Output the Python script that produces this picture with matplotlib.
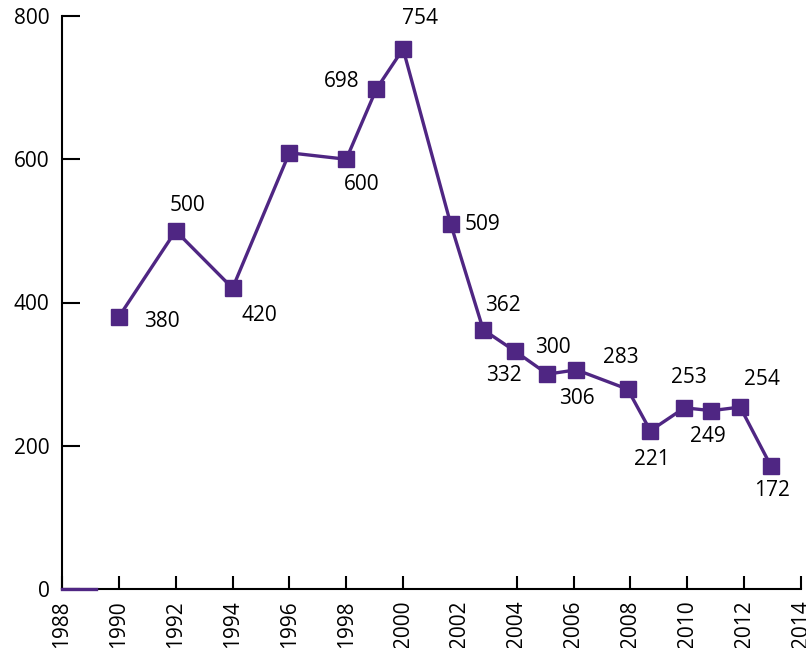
import matplotlib.pyplot as plt

plt.rcParams['font.family'] = ['Open Sans', 'DejaVu Sans']

# Data
years = [1990, 1992, 1994, 1996, 1998, 1999.06, 2000, 2001.68, 2002.82, 2003.94,
         2005.08, 2006.1, 2007.9, 2008.7, 2009.9, 2010.85, 2011.86, 2012.94]
values = [380, 500, 420, 609, 600, 698, 754, 509, 362, 332,
          300, 306, 279, 221, 253, 249, 254, 172]
labels = ['380', '500', '420', '', '600', '698', '754', '509', '362', '332',
          '300', '306', '283', '221', '253', '249', '254', '172']
# label offsets in pixels (dx, dy)
offsets = [(43, -5), (12, 25), (27, -27), (0, 0), (15, -25), (-35, 8), (17, 30),
           (32, 0), (20, 24), (-11, -24), (5, 27), (0, -29), (-7, 32), (2, -29),
           (4, 30), (-4, -26), (22, 28), (1, -25)]

base_years = [1988, 1989.2]
base_values = [0, 0]

tick_years = [1988, 1990, 1992, 1994, 1996, 1998, 2000, 2002, 2004, 2006, 2008, 2010, 2012, 2014]

purple = '#4f2683'

fig = plt.figure(figsize=(8.06, 6.48), dpi=100)
ax = fig.add_axes([62 / 806, 59 / 648, 739 / 806, 573 / 648])

ax.plot(base_years, base_values, color=purple, lw=2.4, clip_on=False, zorder=3)
ax.plot(years, values, color=purple, lw=2.4, marker='s', markersize=11.5, zorder=3)

for x, y, lab, (dx, dy) in zip(years, values, labels, offsets):
    if lab:
        ax.annotate(lab, (x, y), xytext=(dx * 0.72, dy * 0.72), textcoords='offset points',
                    ha='center', va='center', fontsize=15, color='black')

ax.set_xlim(1988, 2014)
ax.set_ylim(0, 800)
ax.set_xticks([t for t in tick_years if t != 2002])
ax.set_xticks([2002], minor=True)
ax.set_xticklabels([str(t) for t in tick_years if t != 2002], rotation=90)
ax.set_xticklabels(['2002'], minor=True, rotation=90)
ax.tick_params(axis='x', which='minor', length=0, pad=8, labelsize=15)
ax.set_yticks([0, 200, 400, 600, 800])

ax.tick_params(axis='x', direction='in', length=9.5, width=1.5, pad=8, labelsize=15)
ax.tick_params(axis='y', direction='in', length=13, width=1.5, pad=9, labelsize=15)

ax.spines['top'].set_visible(False)
ax.spines['right'].set_visible(False)
ax.spines['left'].set_linewidth(1.5)
ax.spines['bottom'].set_linewidth(1.5)

fig.savefig('out.png', dpi=100)
